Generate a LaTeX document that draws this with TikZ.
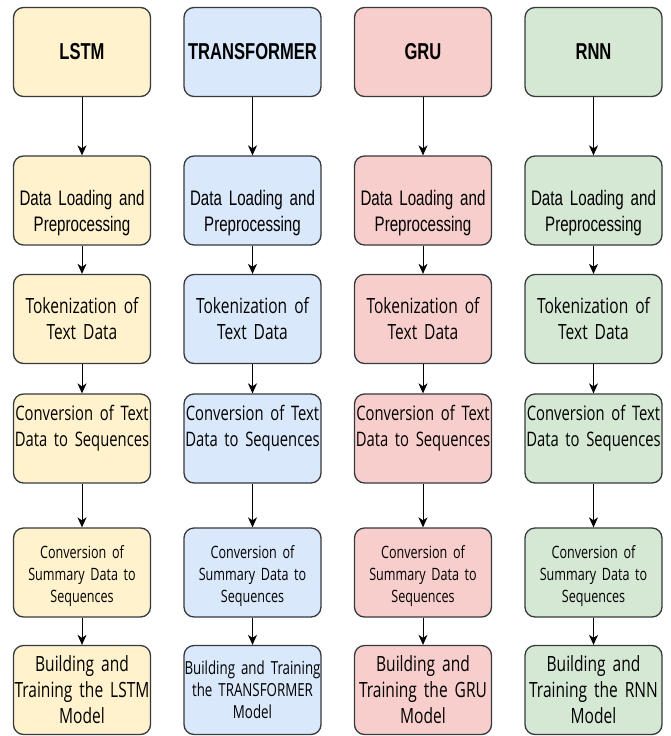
\documentclass[tikz,border=0pt]{standalone}
\usepackage{fontspec}
\usetikzlibrary{arrows.meta,positioning}
\newfontfamily\titlefont[FakeStretch=0.72]{Liberation Sans}
\newfontfamily\loadfont[FakeStretch=0.72]{Liberation Sans}
\newfontfamily\stepfont[FakeStretch=0.74]{Open Sans}
\definecolor{boxline}{HTML}{36393D}
\definecolor{lstmfill}{HTML}{FFF2CC}
\definecolor{transfill}{HTML}{DAE8FC}
\definecolor{grufill}{HTML}{F8CECC}
\definecolor{rnnfill}{HTML}{D5E8D4}

\begin{document}
\begin{tikzpicture}[x=1pt, y=-1pt, node distance=170.5pt, align=center,
    stage/.style={draw=boxline, line width=1.3pt, rounded corners=10pt,
        minimum width=137pt, minimum height=89pt, text width=137pt,
        inner xsep=0pt, inner ysep=0pt,
        font=\stepfont\fontsize{21}{26}\selectfont},
    headline/.style={font=\titlefont\bfseries\fontsize{23}{27}\selectfont},
    loadline/.style={font=\loadfont\fontsize{21}{26}\selectfont,
        text height=39.5pt, text depth=30.5pt},
    textline/.style={font=\stepfont\fontsize{20}{26}\selectfont,
        text depth=51pt},
    smallline/.style={font=\stepfont\fontsize{17}{22}\selectfont,
        text height=21pt},
    lstmbox/.style={stage, fill=lstmfill},
    transbox/.style={stage, fill=transfill},
    grubox/.style={stage, fill=grufill},
    rnnbox/.style={stage, fill=rnnfill},
    >={Stealth[length=10pt, width=9pt, inset=3pt]}]
    \useasboundingbox (0,0) rectangle (670,736);

    % column 1
    \node(lstm)      [lstmbox, headline] at (82,52)    {LSTM};
    \node(lstmload)  [lstmbox, loadline] at (82,200.5) {Data Loading and\\Preprocessing};
    \node(lstmtok)   [lstmbox]           at (82,319)   {Tokenization of\\Text Data};
    \node(lstmtext)  [lstmbox, textline] at (82,438.5) {Conversion of Text\\Data to Sequences};
    \node(lstmsum)   [lstmbox, smallline] at (82,572.5) {Conversion of\\Summary Data to\\Sequences};
    \node(lstmbuild) [lstmbox]           at (82,690)   {Building and\\Training the LSTM\\Model};

    % column 2
    \node(trans)      [transbox, headline, right of=lstm]       {TRANSFORMER};
    \node(transload)  [transbox, loadline, right of=lstmload]   {Data Loading and\\Preprocessing};
    \node(transtok)   [transbox, right of=lstmtok]              {Tokenization of\\Text Data};
    \node(transtext)  [transbox, textline, right of=lstmtext]   {Conversion of Text\\Data to Sequences};
    \node(transsum)   [transbox, smallline, right of=lstmsum]   {Conversion of\\Summary Data to\\Sequences};
    \node(transbuild) [transbox, font=\stepfont\fontsize{18}{22}\selectfont, right of=lstmbuild] {Building and Training\\the TRANSFORMER\\Model};

    % column 3
    \node(gru)      [grubox, headline, right of=trans]       {GRU};
    \node(gruload)  [grubox, loadline, right of=transload]   {Data Loading and\\Preprocessing};
    \node(grutok)   [grubox, right of=transtok]              {Tokenization of\\Text Data};
    \node(grutext)  [grubox, textline, right of=transtext]   {Conversion of Text\\Data to Sequences};
    \node(grusum)   [grubox, smallline, right of=transsum]   {Conversion of\\Summary Data to\\Sequences};
    \node(grubuild) [grubox, right of=transbuild]            {Building and\\Training the GRU\\Model};

    % column 4
    \node(rnn)      [rnnbox, headline, right of=gru]       {RNN};
    \node(rnnload)  [rnnbox, loadline, right of=gruload]   {Data Loading and\\Preprocessing};
    \node(rnntok)   [rnnbox, right of=grutok]              {Tokenization of\\Text Data};
    \node(rnntext)  [rnnbox, textline, right of=grutext]   {Conversion of Text\\Data to Sequences};
    \node(rnnsum)   [rnnbox, smallline, right of=grusum]   {Conversion of\\Summary Data to\\Sequences};
    \node(rnnbuild) [rnnbox, right of=grubuild]            {Building and\\Training the RNN\\Model};

    % column 1
    \draw [->][draw=black, line width=1pt] (lstm) to (lstmload);
    \draw [->][draw=black, line width=1pt] (lstmload) to (lstmtok);
    \draw [->][draw=black, line width=1pt] (lstmtok) to (lstmtext);
    \draw [->][draw=black, line width=1pt] (lstmtext) to (lstmsum);
    \draw [->][draw=black, line width=1pt] (lstmsum) to (lstmbuild);

    % column 2
    \draw [->][draw=black, line width=1pt] (trans) to (transload);
    \draw [->][draw=black, line width=1pt] (transload) to (transtok);
    \draw [->][draw=black, line width=1pt] (transtok) to (transtext);
    \draw [->][draw=black, line width=1pt] (transtext) to (transsum);
    \draw [->][draw=black, line width=1pt] (transsum) to (transbuild);

    % column 3
    \draw [->][draw=black, line width=1pt] (gru) to (gruload);
    \draw [->][draw=black, line width=1pt] (gruload) to (grutok);
    \draw [->][draw=black, line width=1pt] (grutok) to (grutext);
    \draw [->][draw=black, line width=1pt] (grutext) to (grusum);
    \draw [->][draw=black, line width=1pt] (grusum) to (grubuild);

    % column 4
    \draw [->][draw=black, line width=1pt] (rnn) to (rnnload);
    \draw [->][draw=black, line width=1pt] (rnnload) to (rnntok);
    \draw [->][draw=black, line width=1pt] (rnntok) to (rnntext);
    \draw [->][draw=black, line width=1pt] (rnntext) to (rnnsum);
    \draw [->][draw=black, line width=1pt] (rnnsum) to (rnnbuild);
\end{tikzpicture}
\end{document}
